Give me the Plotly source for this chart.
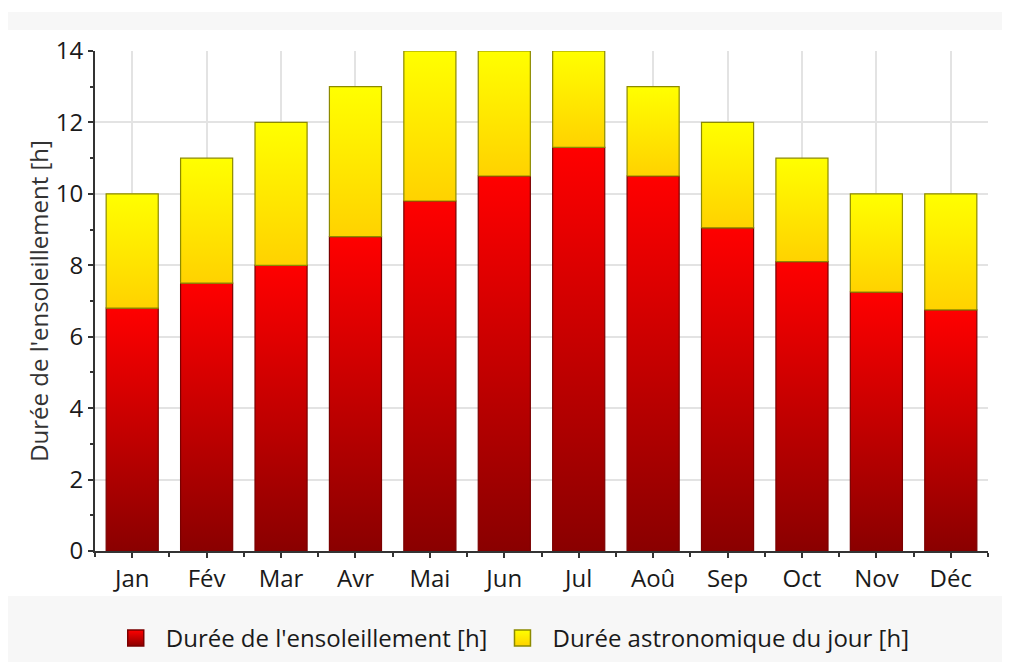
import plotly.graph_objects as go

months = ["Jan", "Fév", "Mar", "Avr", "Mai", "Jun", "Jul", "Aoû", "Sep", "Oct", "Nov", "Déc"]
sunshine = [6.8, 7.5, 8.0, 8.8, 9.8, 10.5, 11.3, 10.5, 9.05, 8.1, 7.25, 6.75]
daylength = [10, 11, 12, 13, 14, 14, 14, 13, 12, 11, 10, 10]
series_names = ["Durée de l'ensoleillement [h]", "Durée astronomique du jour [h]"]
y_title = "Durée de l'ensoleillement [h]"

FONT = "Open Sans, Noto Sans, sans-serif"
FS = 24
BAR_W = 0.7
styles = [
    dict(scale=[[0, "#8a0000"], [1, "#ff0000"]], top="#ff0000", bottom="#8a0000", line="#7a0000"),
    dict(scale=[[0, "#ffd200"], [1, "#ffff00"]], top="#ffff00", bottom="#ffd200", line="#8c8a00"),
]

fig = go.Figure()
for i, (s, d) in enumerate(zip(sunshine, daylength)):
    for k, (base, top) in enumerate([(0, s), (s, d)]):
        h = BAR_W / 2
        fig.add_trace(go.Scatter(
            x=[i - h, i + h, i + h, i - h, i - h],
            y=[base, base, top, top, base],
            mode="lines",
            fill="toself",
            fillgradient=dict(type="vertical", colorscale=styles[k]["scale"]),
            line=dict(color=styles[k]["line"], width=1.2),
            name=series_names[k],
            legendgroup=series_names[k],
            showlegend=False,
            hoverinfo="skip",
        ))

# legend entries
for k, name in enumerate(series_names):
    fig.add_trace(go.Scatter(
        x=[None], y=[None], mode="markers", name=name, legendgroup=name,
        marker=dict(symbol="square", size=16, color=styles[k]["top"],
                    gradient=dict(type="vertical", color=styles[k]["bottom"]),
                    line=dict(color=styles[k]["line"], width=1.5)),
        showlegend=True, hoverinfo="skip",
    ))

# decorative background bands (top strip and legend strip)
fig.add_shape(type="rect", xref="paper", yref="paper", x0=-0.0974, x1=1.04,
              y0=1.042, y1=1.078, fillcolor="#f7f7f7", line_width=0, layer="below")
fig.add_shape(type="rect", xref="paper", yref="paper", x0=-0.0974, x1=1.04,
              y0=-0.25, y1=-0.09, fillcolor="#f7f7f7", line_width=0, layer="below")

fig.update_layout(
    width=1002, height=654,
    margin=dict(l=87, r=22, t=43, b=111, autoexpand=False),
    paper_bgcolor="white", plot_bgcolor="white",
    font=dict(family=FONT, size=FS, color="#1a1a1a"),
    showlegend=True,
    legend=dict(orientation="h", x=0.465, xanchor="center",
                yref="container", y=0.036, yanchor="middle",
                bgcolor="rgba(0,0,0,0)", font=dict(size=FS, color="#1a1a1a"),
                itemwidth=50, tracegroupgap=0),
    xaxis=dict(
        range=[-0.5, len(months) - 0.5],
        tickmode="array", tickvals=list(range(len(months))), ticktext=months,
        showgrid=True, gridcolor="#e3e3e3", gridwidth=2,
        showline=True, linecolor="#333", linewidth=2,
        ticks="outside", ticklen=5, tickcolor="#333", tickwidth=2,
        minor=dict(tickmode="array", tickvals=[j + 0.5 for j in range(-1, len(months))],
                   ticks="outside", ticklen=4, tickcolor="#333", tickwidth=2, showgrid=False),
        zeroline=False, fixedrange=True,
    ),
    yaxis=dict(
        range=[0, 14], dtick=2, tick0=0,
        showgrid=True, gridcolor="#e3e3e3", gridwidth=2,
        showline=True, linecolor="#333", linewidth=2,
        ticks="outside", ticklen=5, tickcolor="#333", tickwidth=2,
        minor=dict(dtick=1, ticks="outside", ticklen=3, tickcolor="#333", tickwidth=2, showgrid=False),
        zeroline=False,
        title=dict(text=y_title, font=dict(size=FS, color="#333"), standoff=0),
    ),
)

fig.write_html("out.html")
